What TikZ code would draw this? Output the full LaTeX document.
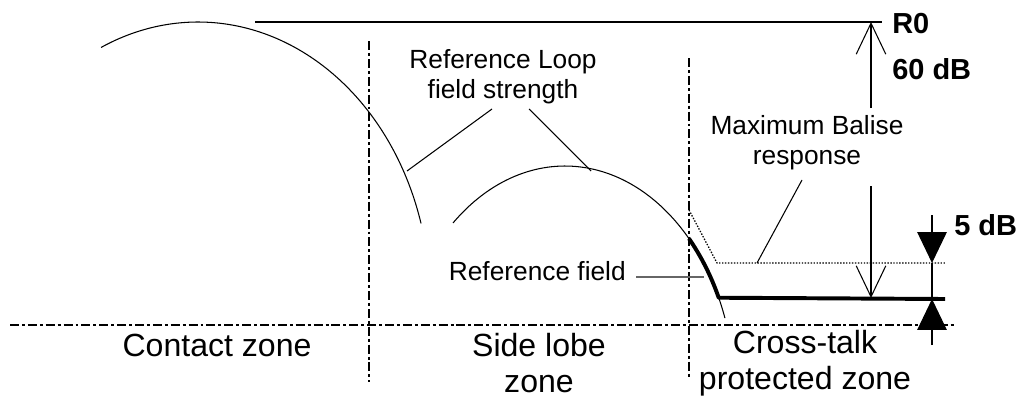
\documentclass[tikz,border=0pt]{standalone}
\usepackage{fontspec}
\setmainfont{Liberation Sans}
\usepackage{tikz}
\usetikzlibrary{arrows.meta, positioning, calc}

\begin{document}
\begin{tikzpicture}[
  x=0.025cm, y=-0.025cm,
  thinline/.style={line width=0.75pt, color=black},
  zoneline/.style={line width=1.9pt, dash pattern=on 6.4pt off 2.1pt on 2.1pt off 2.1pt},
  levelline/.style={line width=1.5pt},
  fieldline/.style={line width=2.8pt, line join=round},
  respline/.style={line width=0.9pt, dash pattern=on 1pt off 1.1pt},
  openarr/.style={thinline, -{Straight Barb[length=22pt, width=21pt, line width=0.75pt]}},
  filledarr/.style={thinline, -{Triangle[length=22pt, width=21pt]}},
  lbl/.style={inner sep=0pt, font=\fontsize{18.7}{21.3}\selectfont, align=center},
  zonelbl/.style={inner sep=0pt, font=\fontsize{22.8}{25.8}\selectfont, align=center},
  dblbl/.style={inner sep=0pt, font=\fontsize{20.6}{24}\selectfont\bfseries, anchor=base west}
]
  \useasboundingbox (0,0) rectangle (1017,396);

  % reference level R0 and the 60 dB span
  \coordinate (r0start) at (255,22);
  \coordinate (r0end) at (882,22);
  \coordinate (r0tip) at (871,22);
  \coordinate (r0tail) at (871,108);
  \coordinate (resptail) at (871,186);
  \coordinate (resptip) at (871,298);
  \draw[levelline] (r0start) -- (r0end);
  \draw[openarr] (r0tail) -- (r0tip);
  \draw[openarr] (resptail) -- (resptip);
  \node[dblbl] (r0) at (892,33) {R0};
  \node[dblbl] (db60) at (892,79) {60 dB};

  % zone borders and base line
  \coordinate (baseleft) at (10,325);
  \coordinate (baseright) at (955,325);
  \coordinate (borderAtop) at (369,41);
  \coordinate (borderAbot) at (369,382);
  \coordinate (borderBtop) at (689,58);
  \coordinate (borderBbot) at (689,377);
  \draw[zoneline] (baseleft) -- (baseright);
  \draw[zoneline] (borderAtop) -- (borderAbot);
  \draw[zoneline] (borderBtop) -- (borderBbot);

  % reference loop field strength
  \draw[thinline] plot[domain=16:114.7, samples=80, smooth] ({198+232*cos(\x)}, {300-278*sin(\x)});
  \draw[thinline] plot[domain=19.8:131.2, samples=80, smooth] ({565+170*cos(\x)}, {396-230*sin(\x)});

  % reference field (thick) and maximum balise response (dotted)
  \coordinate (fieldend) at (945,299);
  \draw[fieldline] plot[domain=43.2:25.3, samples=20, smooth] ({565+170*cos(\x)}, {396-230*sin(\x)}) -- (fieldend);
  \coordinate (respstart) at (689,210);
  \coordinate (respbend) at (717,263);
  \coordinate (respend) at (945,263);
  \draw[respline] (respstart) -- (respbend) -- (respend);

  % 5 dB margin
  \coordinate (m5top) at (932,215);
  \coordinate (m5upper) at (932,263);
  \coordinate (m5lower) at (932,299);
  \coordinate (m5bot) at (932,345);
  \draw[filledarr] (m5top) -- (m5upper);
  \draw[filledarr] (m5bot) -- (m5lower);
  \draw[line width=2pt] (m5upper) -- (m5lower);
  \node[dblbl] (db5) at (954,235) {5 dB};

  % labels with pointers
  \node[lbl] (looplbl) at (503,77) {Reference Loop\\field strength};
  \coordinate (loopptA) at (407,171);
  \coordinate (loopptB) at (591,171);
  \draw[thinline] (loopptA) -- (492,109);
  \draw[thinline] (529,109) -- (loopptB);

  \node[lbl] (resplbl) at (807,143) {Maximum Balise\\response};
  \coordinate (resppt) at (757,263);
  \draw[thinline] (802,180) -- (resppt);

  \node[lbl, anchor=base east] (fieldlbl) at (626,280) {Reference field};
  \coordinate (fieldpt) at (704,277);
  \draw[line width=0.75pt, color=black!60] (636,277) -- (fieldpt);

  % zone names
  \node[zonelbl, anchor=base] (contact) at (217,356) {Contact zone};
  \node[zonelbl] (sidelobe) at (539,363) {Side lobe\\zone};
  \node[zonelbl] (crosstalk) at (805,363) {Cross-talk\\protected zone};
\end{tikzpicture}
\end{document}
